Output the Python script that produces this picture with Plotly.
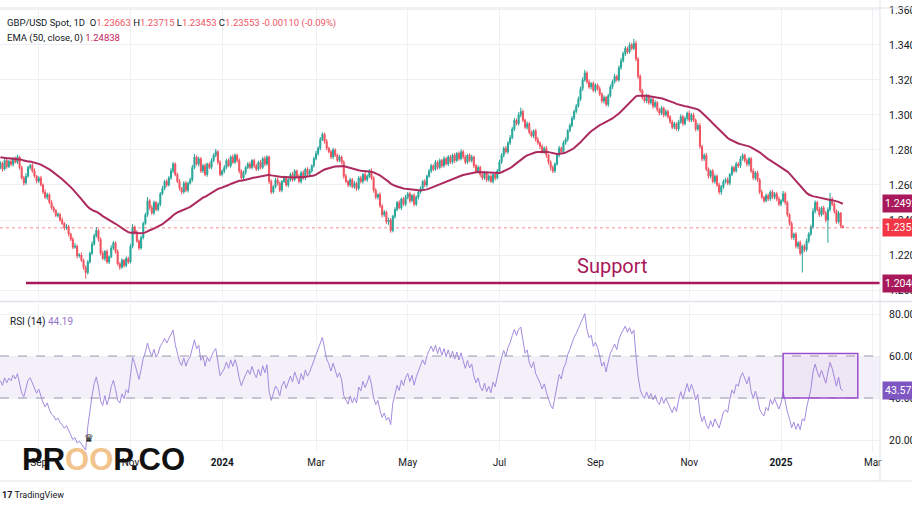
import numpy as np
import pandas as pd
import plotly.graph_objects as go

# Daily closes GBP/USD, one per weekday (Aug 8 2023 -> Feb 11 2025)
closes = [
    1.2725, 1.2690, 1.2740, 1.2705, 1.2735, 1.2718, 1.2752, 1.2730, 1.2760, 1.2700, 1.2640, 1.2612, 1.2650, 1.2700, 1.2712, 1.2680, 1.2650, 1.2622, 1.2640, 1.2600,
    1.2560, 1.2530, 1.2545, 1.2500, 1.2470, 1.2455, 1.2425, 1.2432, 1.2400, 1.2380, 1.2355, 1.2362, 1.2320, 1.2290, 1.2245, 1.2250, 1.2195, 1.2200, 1.2170, 1.2130,
    1.2100, 1.2160, 1.2210, 1.2262, 1.2310, 1.2340, 1.2290, 1.2210, 1.2180, 1.2220, 1.2160, 1.2190, 1.2240, 1.2270, 1.2220, 1.2150, 1.2130, 1.2170, 1.2140, 1.2180,
    1.2160, 1.2250, 1.2360, 1.2330, 1.2280, 1.2240, 1.2300, 1.2380, 1.2430, 1.2510, 1.2470, 1.2440, 1.2500, 1.2460, 1.2490, 1.2550, 1.2580, 1.2620, 1.2600, 1.2640,
    1.2680, 1.2720, 1.2660, 1.2620, 1.2580, 1.2560, 1.2610, 1.2570, 1.2610, 1.2630, 1.2700, 1.2760, 1.2720, 1.2750, 1.2680, 1.2710, 1.2660, 1.2720, 1.2700, 1.2740,
    1.2770, 1.2790, 1.2730, 1.2660, 1.2680, 1.2700, 1.2740, 1.2710, 1.2760, 1.2730, 1.2770, 1.2740, 1.2680, 1.2640, 1.2670, 1.2700, 1.2720, 1.2700, 1.2740, 1.2710,
    1.2690, 1.2730, 1.2700, 1.2750, 1.2720, 1.2760, 1.2620, 1.2560, 1.2590, 1.2630, 1.2610, 1.2570, 1.2620, 1.2640, 1.2600, 1.2630, 1.2660, 1.2630, 1.2680, 1.2650,
    1.2620, 1.2670, 1.2640, 1.2690, 1.2660, 1.2680, 1.2710, 1.2750, 1.2780, 1.2810, 1.2860, 1.2890, 1.2850, 1.2810, 1.2790, 1.2760, 1.2800, 1.2770, 1.2740, 1.2760,
    1.2730, 1.2650, 1.2620, 1.2600, 1.2630, 1.2590, 1.2610, 1.2580, 1.2640, 1.2620, 1.2660, 1.2630, 1.2650, 1.2680, 1.2640, 1.2570, 1.2530, 1.2545, 1.2480, 1.2430,
    1.2445, 1.2390, 1.2400, 1.2340, 1.2420, 1.2460, 1.2500, 1.2470, 1.2520, 1.2490, 1.2530, 1.2550, 1.2510, 1.2540, 1.2490, 1.2530, 1.2560, 1.2580, 1.2620, 1.2600,
    1.2650, 1.2680, 1.2710, 1.2690, 1.2730, 1.2700, 1.2740, 1.2710, 1.2750, 1.2720, 1.2760, 1.2730, 1.2770, 1.2740, 1.2780, 1.2750, 1.2790, 1.2760, 1.2730, 1.2770,
    1.2740, 1.2760, 1.2710, 1.2680, 1.2700, 1.2660, 1.2640, 1.2670, 1.2630, 1.2650, 1.2620, 1.2660, 1.2640, 1.2680, 1.2730, 1.2770, 1.2810, 1.2790, 1.2840, 1.2870,
    1.2920, 1.2970, 1.2950, 1.3000, 1.3020, 1.2970, 1.2930, 1.2950, 1.2900, 1.2880, 1.2910, 1.2860, 1.2840, 1.2820, 1.2790, 1.2810, 1.2770, 1.2730, 1.2700, 1.2680,
    1.2720, 1.2770, 1.2810, 1.2790, 1.2840, 1.2860, 1.2910, 1.2940, 1.2980, 1.3020, 1.3050, 1.3090, 1.3150, 1.3200, 1.3240, 1.3190, 1.3160, 1.3180, 1.3140, 1.3170,
    1.3150, 1.3120, 1.3080, 1.3100, 1.3060, 1.3110, 1.3160, 1.3190, 1.3220, 1.3200, 1.3270, 1.3310, 1.3350, 1.3380, 1.3360, 1.3400, 1.3380, 1.3410, 1.3320, 1.3220,
    1.3140, 1.3100, 1.3080, 1.3110, 1.3070, 1.3090, 1.3050, 1.3070, 1.3030, 1.3010, 1.3040, 1.3000, 1.3020, 1.2990, 1.2960, 1.2930, 1.2950, 1.2920, 1.2960, 1.2990,
    1.2950, 1.2980, 1.3010, 1.2970, 1.3000, 1.2970, 1.2920, 1.2940, 1.2820, 1.2750, 1.2770, 1.2690, 1.2650, 1.2680, 1.2620, 1.2650, 1.2600, 1.2560, 1.2590, 1.2620,
    1.2630, 1.2610, 1.2660, 1.2700, 1.2680, 1.2720, 1.2710, 1.2750, 1.2770, 1.2740, 1.2720, 1.2750, 1.2680, 1.2640, 1.2670, 1.2630, 1.2560, 1.2530, 1.2510, 1.2540,
    1.2520, 1.2560, 1.2530, 1.2550, 1.2520, 1.2490, 1.2510, 1.2550, 1.2500, 1.2430, 1.2380, 1.2300, 1.2320, 1.2250, 1.2270, 1.2210, 1.2250, 1.2230, 1.2280, 1.2320,
    1.2360, 1.2450, 1.2500, 1.2460, 1.2430, 1.2470, 1.2440, 1.2400, 1.2460, 1.2520, 1.2490, 1.2450, 1.2390, 1.2440, 1.23663, 1.23553,
]

# wick lengths above / below the candle body, in pips
upper_wick_pips = [
    12, 8, 15, 10, 9, 14, 7, 11, 13, 6, 10, 12, 18, 9, 8, 11, 14, 7, 10, 12,
    9, 15, 11, 8, 13, 10, 7, 12, 9, 14, 8, 16, 10, 7, 12, 18, 9, 11, 15, 8,
    10, 13, 9, 16, 12, 20, 8, 11, 14, 9, 12, 7, 15, 10, 8, 13, 9, 11, 7, 12,
    10, 14, 18, 9, 11, 8, 13, 10, 12, 22, 9, 14, 11, 8, 12, 10, 15, 9, 13, 11,
    16, 12, 9, 10, 14, 8, 11, 13, 9, 12, 15, 18, 10, 12, 9, 11, 14, 8, 10, 13,
    12, 16, 9, 11, 8, 14, 10, 12, 9, 15, 11, 8, 13, 10, 12, 9, 11, 14, 8, 10,
    12, 9, 13, 11, 15, 10, 8, 12, 9, 11, 14, 10, 8, 13, 9, 12, 10, 15, 11, 8,
    12, 10, 14, 9, 11, 13, 8, 12, 15, 11, 14, 10, 9, 12, 8, 11, 13, 9, 10, 12,
    8, 11, 14, 9, 12, 10, 13, 8, 11, 12, 9, 14, 10, 12, 15, 9, 11, 8, 13, 10,
    12, 9, 14, 11, 10, 13, 9, 12, 8, 11, 14, 10, 12, 9, 13, 11, 8, 12, 10, 14,
    9, 12, 11, 8, 13, 10, 12, 9, 14, 11, 10, 12, 9, 13, 8, 11, 14, 10, 12, 9,
    11, 13, 8, 10, 12, 9, 14, 11, 8, 12, 10, 13, 9, 11, 14, 12, 10, 13, 11, 15,
    12, 14, 10, 16, 22, 11, 9, 13, 10, 12, 8, 11, 14, 9, 12, 10, 13, 8, 11, 12,
    9, 12, 14, 10, 13, 11, 9, 12, 14, 10, 13, 15, 12, 16, 18, 10, 13, 9, 12, 11,
    10, 13, 9, 12, 8, 11, 14, 12, 15, 10, 13, 16, 12, 14, 10, 15, 12, 25, 14, 10,
    12, 9, 13, 11, 8, 12, 10, 14, 9, 11, 13, 8, 12, 10, 9, 13, 11, 8, 12, 14,
    10, 12, 9, 15, 11, 13, 10, 14, 12, 9, 11, 13, 10, 8, 12, 11, 9, 13, 10, 12,
    11, 14, 9, 12, 10, 13, 11, 15, 12, 9, 13, 11, 10, 14, 9, 12, 10, 13, 8, 11,
    12, 9, 13, 10, 11, 14, 9, 16, 12, 10, 9, 12, 8, 11, 10, 13, 9, 12, 14, 11,
    13, 18, 12, 10, 14, 9, 12, 11, 13, 35, 12, 14, 10, 12, 5, 0.52,
]
lower_wick_pips = [
    10, 14, 8, 12, 9, 11, 13, 7, 10, 12, 9, 15, 11, 8, 12, 10, 9, 13, 11, 8,
    12, 10, 14, 9, 11, 13, 8, 12, 10, 9, 14, 11, 13, 10, 12, 9, 15, 11, 10, 14,
    35, 12, 9, 11, 8, 10, 13, 12, 9, 14, 10, 12, 8, 11, 13, 10, 15, 9, 12, 10,
    11, 9, 12, 14, 10, 13, 9, 11, 8, 12, 14, 10, 12, 9, 11, 13, 8, 10, 12, 9,
    11, 13, 10, 9, 12, 14, 10, 11, 13, 8, 12, 10, 9, 14, 11, 12, 10, 13, 9, 11,
    10, 12, 14, 9, 11, 13, 10, 8, 12, 11, 9, 13, 14, 10, 12, 11, 9, 10, 12, 13,
    11, 9, 12, 10, 13, 11, 14, 12, 9, 10, 13, 11, 12, 9, 10, 14, 11, 12, 9, 13,
    10, 12, 11, 13, 9, 12, 10, 11, 9, 13, 12, 10, 14, 11, 9, 12, 13, 10, 11, 9,
    12, 14, 10, 13, 11, 9, 12, 14, 10, 11, 13, 9, 12, 10, 11, 14, 12, 13, 11, 15,
    12, 14, 18, 13, 10, 12, 11, 9, 13, 10, 12, 11, 14, 9, 12, 10, 13, 11, 9, 12,
    14, 10, 12, 11, 9, 13, 10, 12, 11, 9, 13, 10, 12, 14, 9, 11, 10, 13, 12, 11,
    10, 12, 13, 9, 11, 14, 12, 10, 13, 11, 9, 12, 14, 10, 11, 9, 12, 10, 13, 11,
    9, 12, 10, 11, 13, 12, 10, 14, 11, 9, 12, 13, 10, 14, 11, 12, 15, 13, 18, 12,
    11, 10, 12, 9, 11, 10, 12, 9, 11, 10, 12, 9, 11, 13, 10, 12, 11, 14, 10, 12,
    11, 13, 12, 15, 11, 14, 10, 12, 11, 9, 10, 12, 11, 13, 12, 10, 11, 9, 13, 15,
    14, 12, 10, 13, 11, 12, 14, 10, 12, 13, 11, 14, 10, 12, 11, 13, 12, 10, 14, 11,
    12, 10, 13, 11, 12, 10, 14, 12, 13, 15, 12, 11, 14, 12, 10, 13, 11, 14, 16, 12,
    11, 10, 12, 9, 11, 10, 12, 13, 11, 12, 14, 13, 12, 11, 14, 12, 13, 11, 12, 10,
    12, 11, 10, 12, 13, 11, 12, 10, 14, 12, 13, 11, 14, 12, 15, 13, 110, 12, 11, 13,
    12, 10, 13, 11, 12, 10, 11, 13, 130, 12, 11, 14, 12, 10, 11, 1.0,
]

first_open = 1.2700
last_date = "2025-02-11"
ema_seed = 1.2760          # EMA level at the left edge of the chart
rsi_seed_gain = 0.0027     # Wilder averages at the left edge
rsi_seed_loss = 0.0031

support_level = 1.2040
support_start = "2023-08-24"
support_text_date, support_text_price = "2024-09-12", 1.2135
box_start, box_end = "2025-01-02", "2025-02-20"
box_rsi_low, box_rsi_high = 40, 61.2

price_ticks = [1.20, 1.22, 1.24, 1.26, 1.28, 1.30, 1.32, 1.34, 1.36]
rsi_ticks = [20, 40, 60, 80]
tick_dates = ["2023-09-01", "2023-11-01", "2024-01-01", "2024-03-01", "2024-05-01",
              "2024-07-01", "2024-09-02", "2024-11-01", "2025-01-01", "2025-03-03"]
tick_labels = ["Sep", "Nov", "<b>2024</b>", "Mar", "May", "Jul", "Sep", "Nov", "<b>2025</b>", "Mar"]

hdr_ohlc = ["1.23663", "1.23715", "1.23453", "1.23553"]
hdr_change = "-0.00110 (-0.09%)"
hdr_ema = "1.24838"
hdr_rsi = "44.19"

if not (len(closes) == len(upper_wick_pips) == len(lower_wick_pips)):
    raise ValueError(f"lengths {len(closes)} {len(upper_wick_pips)} {len(lower_wick_pips)}")

# ---- derived series
dates = pd.bdate_range(end=last_date, periods=len(closes))
close = np.array(closes)
opens = np.r_[first_open, close[:-1]]
high = np.maximum(opens, close) + np.array(upper_wick_pips) / 1e4
low = np.minimum(opens, close) - np.array(lower_wick_pips) / 1e4

ema = []
e = ema_seed
k = 2 / 51
for c in close:
    e = c * k + e * (1 - k)
    ema.append(e)

rsi = []
ag, al = rsi_seed_gain, rsi_seed_loss
prev = first_open
for c in close:
    d = c - prev
    ag = (ag * 13 + max(d, 0)) / 14
    al = (al * 13 + max(-d, 0)) / 14
    rsi.append(100 - 100 / (1 + ag / al))
    prev = c

# ---- layout helpers (pixel -> paper)
W, H = 912, 513
TOP, BOT, RIGHT = 8, 452, 880


def py(ypx):
    return (BOT - ypx) / (BOT - TOP)


def pxx(xpx):
    return xpx / RIGHT


UP, DOWN = "#26a69a", "#f0525f"
EMA_C = "#ad2a5f"
GRID = "#eef0f4"
TXT = "#131722"
FONT = "Roboto, 'Liberation Sans', sans-serif"

x_start = dates[0] - pd.Timedelta(hours=4)
x_end = dates[-1] + pd.offsets.BDay(17) + pd.Timedelta(hours=10)

fig = go.Figure()
fig.add_trace(go.Candlestick(
    x=dates, open=opens, high=high, low=low, close=close,
    increasing=dict(line=dict(color=UP, width=1), fillcolor=UP),
    decreasing=dict(line=dict(color=DOWN, width=1), fillcolor=DOWN),
    whiskerwidth=0, hoverinfo="skip", showlegend=False, xaxis="x", yaxis="y"))
fig.add_trace(go.Scatter(x=dates, y=ema, mode="lines", line=dict(color=EMA_C, width=2),
                         hoverinfo="skip", showlegend=False, xaxis="x", yaxis="y"))
fig.add_trace(go.Scatter(x=dates, y=rsi, mode="lines", line=dict(color="#a48be0", width=1),
                         hoverinfo="skip", showlegend=False, xaxis="x2", yaxis="y2"))

xcommon = dict(range=[x_start, x_end], rangebreaks=[dict(bounds=["sat", "mon"])],
               tickvals=tick_dates, ticktext=tick_labels, showgrid=True, gridcolor=GRID,
               zeroline=False, showline=False, ticks="outside", ticklen=1,
               tickcolor="rgba(0,0,0,0)")
ycommon = dict(side="right", showgrid=True, gridcolor=GRID, zeroline=False, showline=False,
               ticks="outside", ticklen=6, tickcolor="rgba(0,0,0,0)", automargin=False,
               tickfont=dict(size=10.5, color=TXT, family=FONT))

fig.update_layout(
    width=W, height=H, plot_bgcolor="white", paper_bgcolor="white",
    margin=dict(l=0, r=W - RIGHT, t=TOP, b=H - BOT),
    showlegend=False, font=dict(family=FONT, color=TXT),
    xaxis=dict(domain=[0, 1], anchor="y", showticklabels=False,
               rangeslider=dict(visible=False), **xcommon),
    xaxis2=dict(domain=[0, 1], anchor="y2", matches="x", showticklabels=True,
                tickfont=dict(size=10, color=TXT, family=FONT), **xcommon),
    yaxis=dict(domain=[py(300), 1], anchor="x", range=[1.1943, 1.3611],
               tickvals=price_ticks, tickformat=".5f", **ycommon),
    yaxis2=dict(domain=[0, py(305)], anchor="x2", range=[14.3, 84.3],
                tickvals=rsi_ticks, tickformat=".2f", **ycommon),
)

shapes = [
    # RSI band 40-60
    dict(type="rect", xref="paper", yref="y2", x0=0, x1=1, y0=40, y1=60,
         fillcolor="rgba(126,87,194,0.09)", line=dict(width=0), layer="below"),
    dict(type="line", xref="paper", yref="y2", x0=0, x1=1, y0=60, y1=60,
         line=dict(color="#9a9ab0", width=1, dash="dash")),
    dict(type="line", xref="paper", yref="y2", x0=0, x1=1, y0=40, y1=40,
         line=dict(color="#9a9ab0", width=1, dash="dash")),
    # highlight box on RSI
    dict(type="rect", xref="x2", yref="y2", x0=box_start, x1=box_end,
         y0=box_rsi_low, y1=box_rsi_high, fillcolor="rgba(156,39,176,0.05)",
         line=dict(color="#9c4dcc", width=1.5)),
    # support line
    dict(type="line", xref="x", yref="y", x0=support_start, x1=x_end,
         y0=support_level, y1=support_level, line=dict(color="#a8185a", width=2.5)),
    # last price dotted line
    dict(type="line", xref="paper", yref="y", x0=0, x1=1, y0=close[-1], y1=close[-1],
         line=dict(color="#f23645", width=1, dash="dot"), opacity=0.55),
    # pane borders
    dict(type="line", xref="paper", yref="paper", x0=0, x1=W / RIGHT, y0=py(301.5), y1=py(301.5),
         line=dict(color="#e0e3eb", width=1.5)),
    dict(type="line", xref="paper", yref="paper", x0=0, x1=W / RIGHT, y0=py(TOP), y1=py(TOP),
         line=dict(color="#e0e3eb", width=1)),
    dict(type="line", xref="paper", yref="paper", x0=0, x1=W / RIGHT, y0=py(481), y1=py(481),
         line=dict(color="#e0e3eb", width=1)),
    dict(type="line", xref="paper", yref="paper", x0=1, x1=1, y0=py(481), y1=py(0),
         line=dict(color="#e0e3eb", width=1)),
]
fig.update_layout(shapes=shapes)


def red(s):
    return f"<span style='color:#ef5563'>{s}</span>"


def note(x, y, text, size=10.5, color=TXT, xanchor="left", **kw):
    return dict(x=x, y=y, text=text, showarrow=False, xanchor=xanchor, yanchor="middle",
                font=dict(size=size, color=color, family=kw.pop("family", FONT)), **kw)


ann = [
    note(pxx(5), py(23), f"GBP/USD Spot, 1D  O{red(hdr_ohlc[0])} H{red(hdr_ohlc[1])} "
         f"L{red(hdr_ohlc[2])} C{red(hdr_ohlc[3])} {red(hdr_change)}", size=9.5,
         xref="paper", yref="paper"),
    note(pxx(5), py(38), f"EMA (50, close, 0) <span style='color:#c2185b'>{hdr_ema}</span>",
         size=9.5, xref="paper", yref="paper"),
    note(pxx(8), py(322), f"RSI (14) <span style='color:#9575cd'>{hdr_rsi}</span>",
         size=10, xref="paper", yref="paper"),
    note(support_text_date, support_text_price, "Support", size=20, color="#a8185a",
         xanchor="center", xref="x", yref="y"),
    # right-axis value tags
    note(1, ema[-1], f"{ema[-1]:.5f}", size=10.5, color="white", xref="paper", yref="y",
         xshift=2, bgcolor="#a8185a", borderpad=2),
    note(1, close[-1], f"{close[-1]:.5f}", size=10.5, color="white", xref="paper", yref="y",
         xshift=2, bgcolor="#f23645", borderpad=2),
    note(1, support_level, f"{support_level:.5f}", size=10.5, color="white", xref="paper", yref="y",
         xshift=2, bgcolor="#a8185a", borderpad=2),
    note(1, rsi[-1], f"{rsi[-1]:.2f}", size=10.5, color="white", xref="paper", yref="y2",
         xshift=2, bgcolor="#7e57c2", borderpad=2),
    # watermark
    note(pxx(20), py(459), "<b>PR<span style='color:#f2c48d'>OO</span>P.CO</b>", size=31,
         color="#111111", family="'Liberation Sans', Arial, sans-serif", xref="paper", yref="paper"),
    note(pxx(89), py(438), "♛", size=11, color="#222222", xanchor="center", xref="paper", yref="paper"),
    # footer
    note(0, py(495), "<b>17</b> TradingView", size=9, xref="paper", yref="paper"),
]
fig.update_layout(annotations=ann)

fig.write_html("out.html", config={"displayModeBar": False},
               post_script="document.body.style.margin='0';")
